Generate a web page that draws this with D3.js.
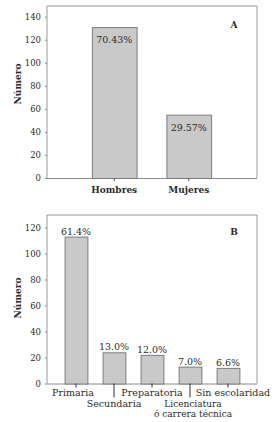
<!DOCTYPE html>
<html>
<head>
<meta charset="utf-8">
<title>Hombres / Escolaridad</title>
<script src="https://cdn.jsdelivr.net/npm/d3@7"></script>
<style>
  body { margin: 0; background: #fff; }
  svg text { font-family: "DejaVu Serif", serif; fill: #2b2b2b; }
</style>
</head>
<body>
<svg width="279" height="422"></svg>
<script>
// panel A: sexo
var sexCats = ["Hombres", "Mujeres"];
var sexValues = [131, 55];
var sexPct = ["70.43%", "29.57%"];

// panel B: escolaridad
var eduCats = ["Primaria", "Secundaria", "Preparatoria", "Licenciatura|ó carrera técnica", "Sin escolaridad"];
var eduValues = [113, 24, 22, 13, 12];
var eduPct = ["61.4%", "13.0%", "12.0%", "7.0%", "6.6%"];

var yTicksA = [0, 20, 40, 60, 80, 100, 120, 140];
var yTicksB = [0, 20, 40, 60, 80, 100, 120];

var svg = d3.select("svg");
var left = 47, right = 257;

function frame(g, top, bottom) {
  // light box round the plot, no line at bottom (the axis does that)
  g.append("path")
    .attr("d", "M" + left + "," + bottom + "V" + top + "H" + right + "V" + bottom)
    .attr("fill", "none").attr("stroke", "#9a9a9a").attr("stroke-width", 1);
  g.append("line")
    .attr("x1", left).attr("x2", right).attr("y1", bottom + 0.5).attr("y2", bottom + 0.5)
    .attr("stroke", "#8a8a8a").attr("stroke-width", 1);
}

function yAxis(g, y, ticks) {
  var ax = g.append("g")
    .attr("transform", "translate(" + left + ",0)")
    .call(d3.axisLeft(y).tickValues(ticks).tickSize(2).tickPadding(4));
  ax.select(".domain").remove();
  ax.selectAll("line").attr("stroke", "#8a8a8a");
  ax.selectAll("text").style("font-size", "8.5px").attr("fill", "#3a3a3a");
}

function yTitle(g, cx, cy) {
  g.append("text")
    .attr("transform", "translate(" + cx + "," + cy + ") rotate(-90)")
    .attr("text-anchor", "middle").attr("dy", "0.35em")
    .style("font-size", "9px").style("font-weight", "bold")
    .text("Número");
}

/* ---- A ---- */
var gA = svg.append("g");
var topA = 6, botA = 178;
var xA = d3.scaleBand().domain(sexCats).range([77, 226]).paddingInner(0.4).paddingOuter(0.2);
var yA = d3.scaleLinear().domain([0, 149.3]).range([botA, topA]);

frame(gA, topA, botA);
yAxis(gA, yA, yTicksA);
yTitle(gA, 18, 84);

gA.selectAll(".bar").data(sexValues).enter().append("rect")
  .attr("x", function(d, i) { return xA(sexCats[i]) + 0.5; })
  .attr("y", function(d) { return yA(d) + 0.5; })
  .attr("width", xA.bandwidth())
  .attr("height", function(d) { return botA - yA(d); })
  .attr("fill", "#c9c9c9").attr("stroke", "#7d7d7d").attr("stroke-width", 1);

gA.selectAll(".pct").data(sexValues).enter().append("text")
  .attr("x", function(d, i) { return xA(sexCats[i]) + xA.bandwidth() / 2; })
  .attr("y", function(d) { return yA(d) + 16; })
  .attr("text-anchor", "middle")
  .style("font-size", "9.5px")
  .text(function(d, i) { return sexPct[i]; });

sexCats.forEach(function(c) {
  var cx = xA(c) + xA.bandwidth() / 2;
  gA.append("line").attr("x1", cx).attr("x2", cx).attr("y1", botA).attr("y2", botA + 3)
    .attr("stroke", "#555");
  gA.append("text").attr("x", cx).attr("y", botA + 15)
    .attr("text-anchor", "middle")
    .style("font-size", "9px").style("font-weight", "bold")
    .text(c);
});

gA.append("text").attr("x", 234).attr("y", 28).attr("text-anchor", "middle")
  .style("font-size", "9px").style("font-weight", "bold").text("A");

/* ---- B ---- */
var gB = svg.append("g");
var topB = 215, botB = 383.5;
var xB = d3.scaleBand().domain(eduCats).range([57, 247]).paddingInner(0.4).paddingOuter(0.2);
var yB = d3.scaleLinear().domain([0, 129.6]).range([botB, topB]);

frame(gB, topB, botB);
yAxis(gB, yB, yTicksB);
yTitle(gB, 18, 298);

gB.selectAll(".bar").data(eduValues).enter().append("rect")
  .attr("x", function(d, i) { return xB(eduCats[i]) + 0.5; })
  .attr("y", function(d) { return yB(d) + 0.5; })
  .attr("width", xB.bandwidth())
  .attr("height", function(d) { return botB - yB(d); })
  .attr("fill", "#c9c9c9").attr("stroke", "#7d7d7d").attr("stroke-width", 1);

gB.selectAll(".pct").data(eduValues).enter().append("text")
  .attr("x", function(d, i) { return xB(eduCats[i]) + xB.bandwidth() / 2; })
  .attr("y", function(d) { return yB(d) - 2; })
  .attr("text-anchor", "middle")
  .style("font-size", "9.5px")
  .text(function(d, i) { return eduPct[i]; });

// labels alternate between two rows; a few nudged sideways like the original
var nudge = [-3, 0, 0, 3, 5];
eduCats.forEach(function(c, i) {
  var cx = xB(c) + xB.bandwidth() / 2;
  var row = i % 2;
  var lines = c.split("|");
  gB.append("line").attr("x1", cx).attr("x2", cx)
    .attr("y1", botB).attr("y2", row ? botB + 14 : botB + 4)
    .attr("stroke", "#333");
  lines.forEach(function(line, k) {
    gB.append("text")
      .attr("text-anchor", "middle")
      .style("font-size", lines.length > 1 ? "9px" : "9.5px")
      .attr("x", cx + nudge[i])
      .attr("y", botB + (row ? 23 : 12) + k * 10.5)
      .text(line);
  });
});

gB.append("text").attr("x", 234).attr("y", 235).attr("text-anchor", "middle")
  .style("font-size", "9px").style("font-weight", "bold").text("B");
</script>
</body>
</html>
